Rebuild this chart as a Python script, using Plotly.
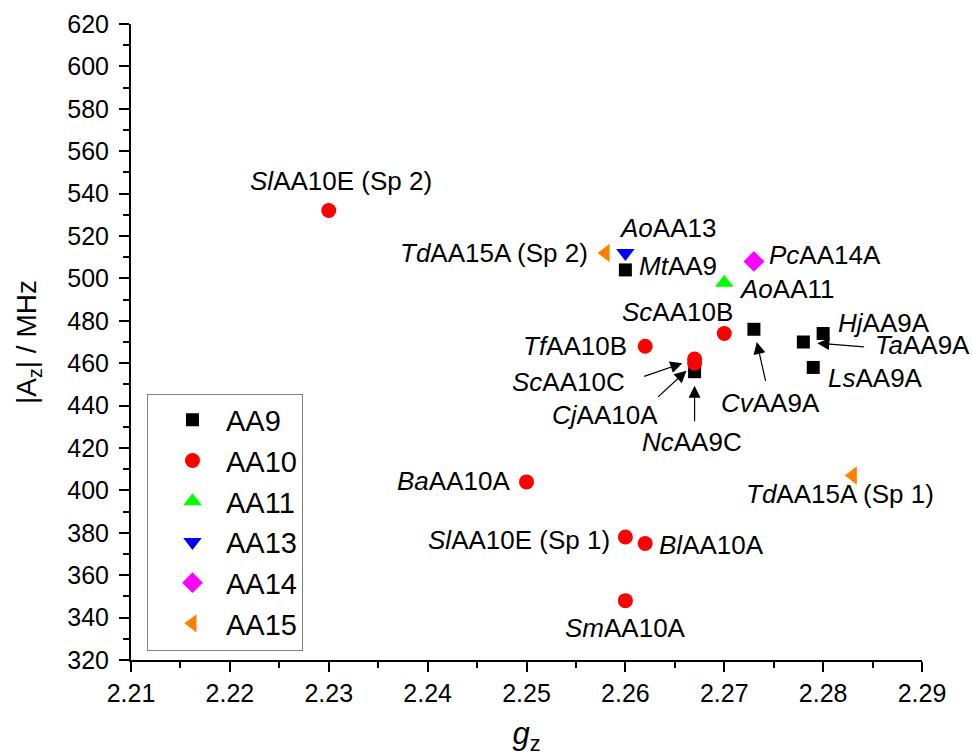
import plotly.graph_objects as go

# ---------------- data ----------------
aa9_names = ["<i>Mt</i>AA9", "<i>Nc</i>AA9C", "<i>Cv</i>AA9A", "<i>Ta</i>AA9A", "<i>Hj</i>AA9A", "<i>Ls</i>AA9A"]
aa9_gz = [2.260, 2.267, 2.273, 2.278, 2.280, 2.279]
aa9_Az = [504, 456, 476, 470, 474, 458]

aa10_names = ["<i>Sl</i>AA10E (Sp 2)", "<i>Tf</i>AA10B", "<i>Sc</i>AA10B", "<i>Sc</i>AA10C", "<i>Cj</i>AA10A",
              "<i>Ba</i>AA10A", "<i>Sl</i>AA10E (Sp 1)", "<i>Bl</i>AA10A", "<i>Sm</i>AA10A"]
aa10_gz = [2.230, 2.262, 2.270, 2.267, 2.267, 2.250, 2.260, 2.262, 2.260]
aa10_Az = [532, 468, 474, 462, 460, 404, 378, 375, 348]

aa11_names = ["<i>Ao</i>AA11"]
aa11_gz = [2.270]
aa11_Az = [498]

aa13_names = ["<i>Ao</i>AA13"]
aa13_gz = [2.260]
aa13_Az = [512]

aa14_names = ["<i>Pc</i>AA14A"]
aa14_gz = [2.273]
aa14_Az = [508]

aa15_names = ["<i>Td</i>AA15A (Sp 2)", "<i>Td</i>AA15A (Sp 1)"]
aa15_gz = [2.258, 2.283]
aa15_Az = [512, 407]

x_ticks = [2.21, 2.22, 2.23, 2.24, 2.25, 2.26, 2.27, 2.28, 2.29]
y_ticks = [320, 340, 360, 380, 400, 420, 440, 460, 480, 500, 520, 540, 560, 580, 600, 620]

# ---------------- styles ----------------
FONT = "Liberation Sans, Arial, sans-serif"
series = [
    ("AA9", aa9_names, aa9_gz, aa9_Az, "square", "#000000", 13),
    ("AA10", aa10_names, aa10_gz, aa10_Az, "circle", "#ff0000", 15),
    ("AA11", aa11_names, aa11_gz, aa11_Az, "triangle-up", "#00ff00", 16),
    ("AA13", aa13_names, aa13_gz, aa13_Az, "triangle-down", "#0000ff", 16),
    ("AA14", aa14_names, aa14_gz, aa14_Az, "diamond", "#ff00ff", 16),
    ("AA15", aa15_names, aa15_gz, aa15_Az, "triangle-left", "#ff8000", 16),
]

# label placement: name -> (xanchor, xshift px, yshift px)
label_pos = {
    "<i>Sl</i>AA10E (Sp 2)": ("center", 12, 30),
    "<i>Td</i>AA15A (Sp 2)": ("right", -16, 0),
    "<i>Ao</i>AA13": ("left", -8, 25),
    "<i>Mt</i>AA9": ("left", 12, 4),
    "<i>Ao</i>AA11": ("left", 13, -6),
    "<i>Pc</i>AA14A": ("left", 13, 6),
    "<i>Sc</i>AA10B": ("center", -47, 22),
    "<i>Tf</i>AA10B": ("right", -16, 0),
    "<i>Hj</i>AA9A": ("left", 13, 11),
    "<i>Ls</i>AA9A": ("left", 13, -11),
    "<i>Td</i>AA15A (Sp 1)": ("center", -13, -18),
    "<i>Ba</i>AA10A": ("right", -15, 1),
    "<i>Sl</i>AA10E (Sp 1)": ("right", -13, -3),
    "<i>Bl</i>AA10A": ("left", 12, -2),
    "<i>Sm</i>AA10A": ("center", 0, -27),
    "<i>Sc</i>AA10C": ("right", -68, -23),
    "<i>Cj</i>AA10A": ("center", -90, -52),
    "<i>Nc</i>AA9C": ("center", -3, -70),
    "<i>Cv</i>AA9A": ("center", 17, -74),
    "<i>Ta</i>AA9A": ("left", 70, -3),
}
# arrows: name -> (ax px, ay px, standoff px)
arrows = {
    "<i>Sc</i>AA10C": (-52, 18, 13),
    "<i>Cj</i>AA10A": (-38, 35, 11),
    "<i>Nc</i>AA9C": (0, 51, 14),
    "<i>Cv</i>AA9A": (12, 53, 13),
    "<i>Ta</i>AA9A": (62, 5, 14),
}

fig = go.Figure()
annotations = []
for name, labels, gx, ay_, sym, col, size in series:
    fig.add_trace(go.Scatter(
        x=gx, y=ay_, mode="markers", name=name,
        marker=dict(symbol=sym, color=col, size=size, line=dict(width=0)),
        cliponaxis=False,
    ))
    for lab, xv, yv in zip(labels, gx, ay_):
        xa, xs, ys = label_pos[lab]
        annotations.append(dict(
            x=xv, y=yv, xref="x", yref="y", text=lab, showarrow=False,
            xanchor=xa, yanchor="middle", xshift=xs, yshift=ys,
            font=dict(family=FONT, size=26, color="black"),
        ))
        if lab in arrows:
            axp, ayp, so = arrows[lab]
            annotations.append(dict(
                x=xv, y=yv, xref="x", yref="y", text="", showarrow=True,
                ax=axp, ay=ayp, axref="pixel", ayref="pixel",
                arrowhead=2, arrowsize=2.0, arrowwidth=1.2, arrowcolor="black",
                standoff=so,
            ))

fig.update_layout(
    width=972, height=756,
    margin=dict(l=131, r=50, t=24, b=96),
    paper_bgcolor="white", plot_bgcolor="white",
    font=dict(family=FONT, color="black"),
    annotations=annotations,
    showlegend=True,
    legend=dict(
        x=0.0202, y=0.419, xanchor="left", yanchor="top",
        bgcolor="white", bordercolor="#808080", borderwidth=1,
        font=dict(family=FONT, size=29, color="black"),
        tracegroupgap=0, itemwidth=57, indentation=11,
    ),
    xaxis=dict(
        range=[2.21, 2.29], tickvals=x_ticks, ticktext=[f"{v:.2f}" for v in x_ticks],
        showgrid=False, zeroline=False, showline=True, linecolor="black", linewidth=2,
        ticks="outside", ticklen=10, tickwidth=2, tickcolor="black",
        minor=dict(dtick=0.005, tick0=2.21, ticks="outside", ticklen=6, tickwidth=2, tickcolor="black"),
        tickfont=dict(family=FONT, size=25, color="black"),
        title=dict(text="<i>g</i><sub>z</sub>", font=dict(family=FONT, size=31, color="black"), standoff=19),
        automargin=False,
    ),
    yaxis=dict(
        range=[320, 620], tickvals=y_ticks, ticktext=[str(v) for v in y_ticks],
        showgrid=False, zeroline=False, showline=True, linecolor="black", linewidth=2,
        ticks="outside", ticklen=10, tickwidth=2, tickcolor="black", ticklabelstandoff=5,
        minor=dict(dtick=10, tick0=320, ticks="outside", ticklen=6, tickwidth=2, tickcolor="black"),
        tickfont=dict(family=FONT, size=25, color="black"),
        title=dict(text="|A<sub>z</sub>| / MHz", font=dict(family=FONT, size=28, color="black"), standoff=22),
        automargin=False,
    ),
)

fig.write_html("out.html", config={"displayModeBar": False},
               post_script="document.body.style.margin='0';")
